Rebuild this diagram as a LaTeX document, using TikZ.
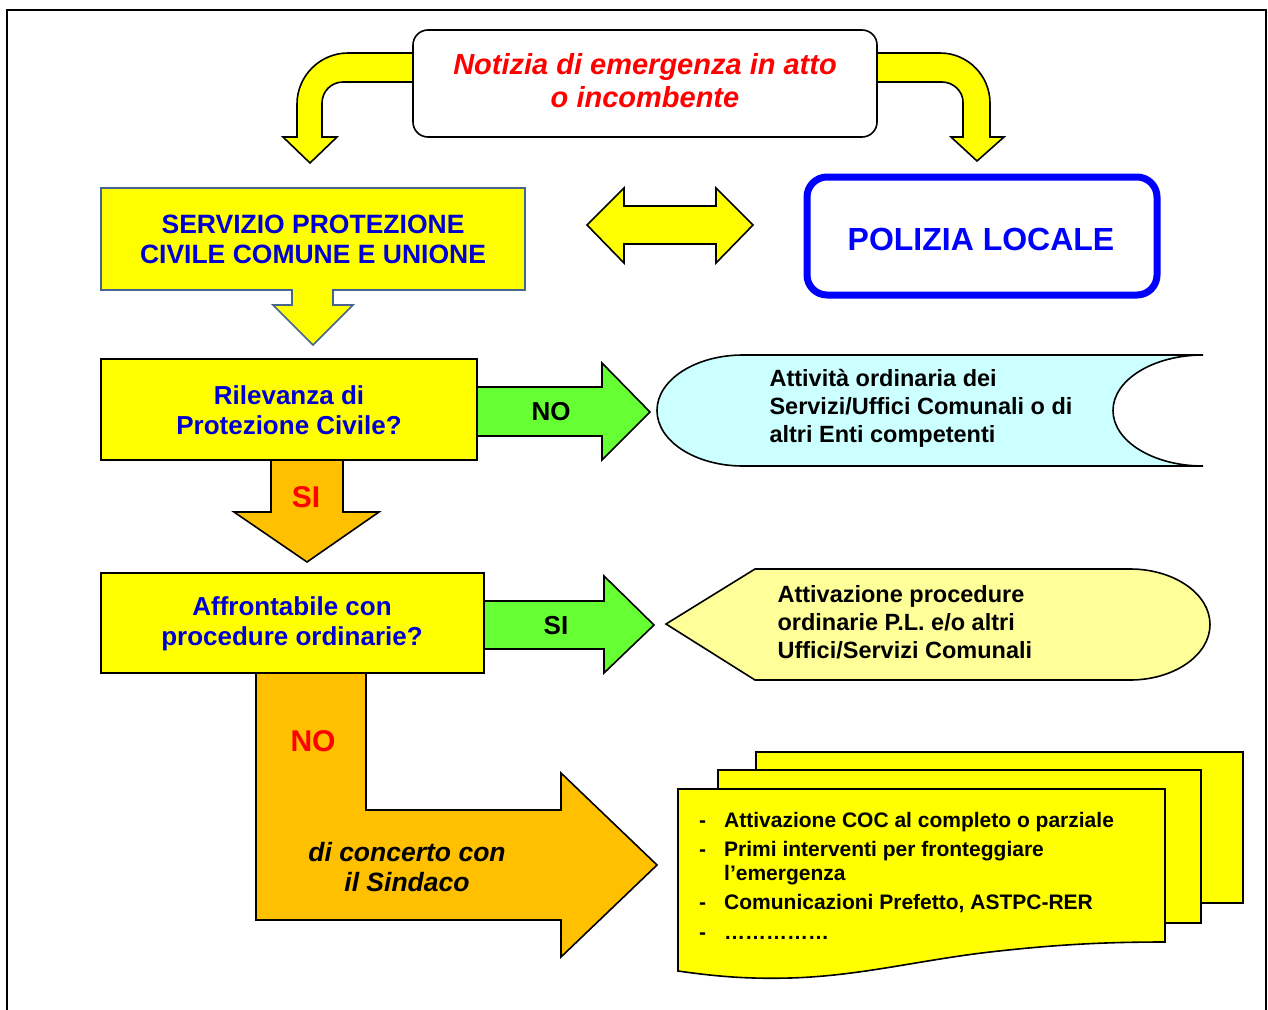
\documentclass[tikz,border=0pt]{standalone}
\usepackage{fontspec}
\setmainfont{Liberation Sans}
\definecolor{yel}{RGB}{255,255,0}
\definecolor{orng}{RGB}{255,192,0}
\definecolor{grn}{RGB}{102,255,51}
\definecolor{lcyan}{RGB}{204,255,255}
\definecolor{pyel}{RGB}{255,255,153}
\definecolor{txtblue}{RGB}{0,0,210}
\definecolor{polblue}{RGB}{0,0,255}
\definecolor{steel}{RGB}{70,100,140}
\tikzset{
  outl/.style={draw=black, line width=1.6pt, line join=miter},
  boxq/.style={outl, fill=yel, inner sep=0pt},
  qtext/.style={text=txtblue, align=center, font=\bfseries\fontsize{26}{30.5}\selectfont},
  blacktext/.style={text=black, align=left, font=\bfseries\fontsize{23.5}{28}\selectfont},
  redlbl/.style={text=red, font=\bfseries\fontsize{30}{34}\selectfont},
  grnlbl/.style={text=black, font=\bfseries\fontsize{26}{30}\selectfont},
}
\begin{document}
\begin{tikzpicture}[x=1pt, y=-1pt]
\useasboundingbox (0,0) rectangle (1268,1009);
% frame
\draw[line width=1.2pt] (7,1012) -- (7,10) -- (1266,10) -- (1266,1012);

% top curved arrows
\draw[outl, fill=yel] (414,53) -- (348,53) .. controls (320,53) and (297,76) .. (297,104)
  -- (297,137) -- (283,137) -- (310,163) -- (337,137) -- (322,137) -- (322,103)
  .. controls (322,91.4) and (331.4,82) .. (343,82) -- (414,82) -- cycle;
\draw[outl, fill=yel] (876,53) -- (940,53) .. controls (968,53) and (990,76) .. (990,103)
  -- (990,137) -- (1004,137) -- (977,161) -- (951,137) -- (963,137) -- (963,102)
  .. controls (963,91) and (953,82) .. (942,82) -- (876,82) -- cycle;

% top box
\node[outl, fill=white, rounded corners=15pt, minimum width=464pt, minimum height=107pt, inner sep=0pt] (notizia) at (645,83.5) {};
\node[text=red, align=center, font=\bfseries\itshape\fontsize{29}{33}\selectfont] (notiziatxt) at (645,81) {Notizia di emergenza in atto\\o incombente};

% double arrow
\draw[outl, fill=yel] (587,225) -- (624,188) -- (624,206) -- (716,206) -- (716,188) -- (753,225)
  -- (716,263) -- (716,244) -- (624,244) -- (624,263) -- cycle;

% polizia locale
\node[draw=polblue, line width=7pt, rounded corners=20pt, fill=white, minimum width=350pt, minimum height=118pt, inner sep=0pt] (polizia) at (982,236) {};
\node[text=polblue, font=\bfseries\fontsize{32}{36}\selectfont] (poliziatxt) at (981,239) {POLIZIA LOCALE};

% servizio callout
\draw[draw=steel, line width=1.6pt, fill=yel, line join=miter] (101,188) -- (525,188) -- (525,290) -- (333,290) -- (333,305)
  -- (353,305) -- (313,345) -- (273,305) -- (292,305) -- (292,290) -- (101,290) -- cycle;
\node[text=txtblue, align=center, font=\bfseries\fontsize{26.5}{30}\selectfont] (servizio) at (313,239) {SERVIZIO PROTEZIONE\\CIVILE COMUNE E UNIONE};

% orange SI arrow and green NO arrow
\draw[outl, fill=orng] (271,459) -- (343,459) -- (343,512) -- (379,512) -- (307,562) -- (234,512) -- (271,512) -- cycle;
\draw[outl, fill=grn] (476,387) -- (602,387) -- (602,363) -- (650,412) -- (602,460) -- (602,436) -- (476,436) -- cycle;
\node[boxq, minimum width=376pt, minimum height=101pt] (rilevanza) at (289,409.5) {};
\node[qtext] (rilevanzatxt) at (289,410) {Rilevanza di\\Protezione Civile?};
\node[redlbl] (si1) at (306,497) {SI};
\node[grnlbl] (no1) at (551,412) {NO};

% stored data shape
\draw[outl, fill=lcyan] (743,355) -- (1203,355) .. controls (1153.3,355) and (1113,379.8) .. (1113,410.5)
  .. controls (1113,441.2) and (1153.3,466) .. (1203,466) -- (743,466)
  .. controls (695.5,466) and (657,441.2) .. (657,410.5) .. controls (657,379.8) and (695.5,355) .. (743,355) -- cycle;
\node[blacktext, anchor=west] (attivita) at (766,408) {Attività ordinaria dei\\Servizi/Uffici Comunali o di\\altri Enti competenti};

% green SI arrow, L arrow
\draw[outl, fill=grn] (483,601) -- (604,601) -- (604,576) -- (654,625) -- (604,673) -- (604,649) -- (483,649) -- cycle;
\draw[outl, fill=orng] (256,672) -- (366,672) -- (366,810) -- (561,810) -- (561,773) -- (657,865) -- (561,957) -- (561,920) -- (256,920) -- cycle;
\node[boxq, minimum width=383pt, minimum height=100pt] (affrontabile) at (292.5,623) {};
\node[qtext] (affrontabiletxt) at (292,624) {Affrontabile con\\procedure ordinarie?};
\node[grnlbl] (si2) at (556,626) {SI};
\node[redlbl] (no2) at (313,741) {NO};
\node[text=black, align=center, font=\bfseries\itshape\fontsize{26.5}{30}\selectfont] (concerto) at (407,867) {di concerto con\\il Sindaco};

% display shape
\draw[outl, fill=pyel] (666,624) -- (755,569) -- (1130,569) .. controls (1174,569) and (1210,593.8) .. (1210,624.5)
  .. controls (1210,655.2) and (1174,680) .. (1130,680) -- (755,680) -- cycle;
\node[blacktext, anchor=west] (procedure) at (774,622) {Attivazione procedure\\ordinarie P.L. e/o altri\\Uffici/Servizi Comunali};

% multi document
\draw[outl, fill=yel] (756,752) rectangle (1243,903);
\draw[outl, fill=yel] (718,770) rectangle (1201,923);
\draw[outl, fill=yel] (678,789) -- (1165,789) -- (1165,942) .. controls (1110,942) and (1060,944) .. (990,952)
  .. controls (920,960) and (860,976) .. (790,978) .. controls (750,979) and (720,977) .. (678,971) -- cycle;
\node[anchor=north west, inner sep=0pt, text=black, font=\bfseries\fontsize{21}{24}\selectfont] (elenco) at (699,810) {%
\begin{tabular}{@{}p{25pt}@{}l@{}}
- & Attivazione COC al completo o parziale\\[5pt]
- & Primi interventi per fronteggiare\\
  & l’emergenza\\[5pt]
- & Comunicazioni Prefetto, ASTPC-RER\\[6pt]
- & ……………
\end{tabular}};
\end{tikzpicture}
\end{document}
